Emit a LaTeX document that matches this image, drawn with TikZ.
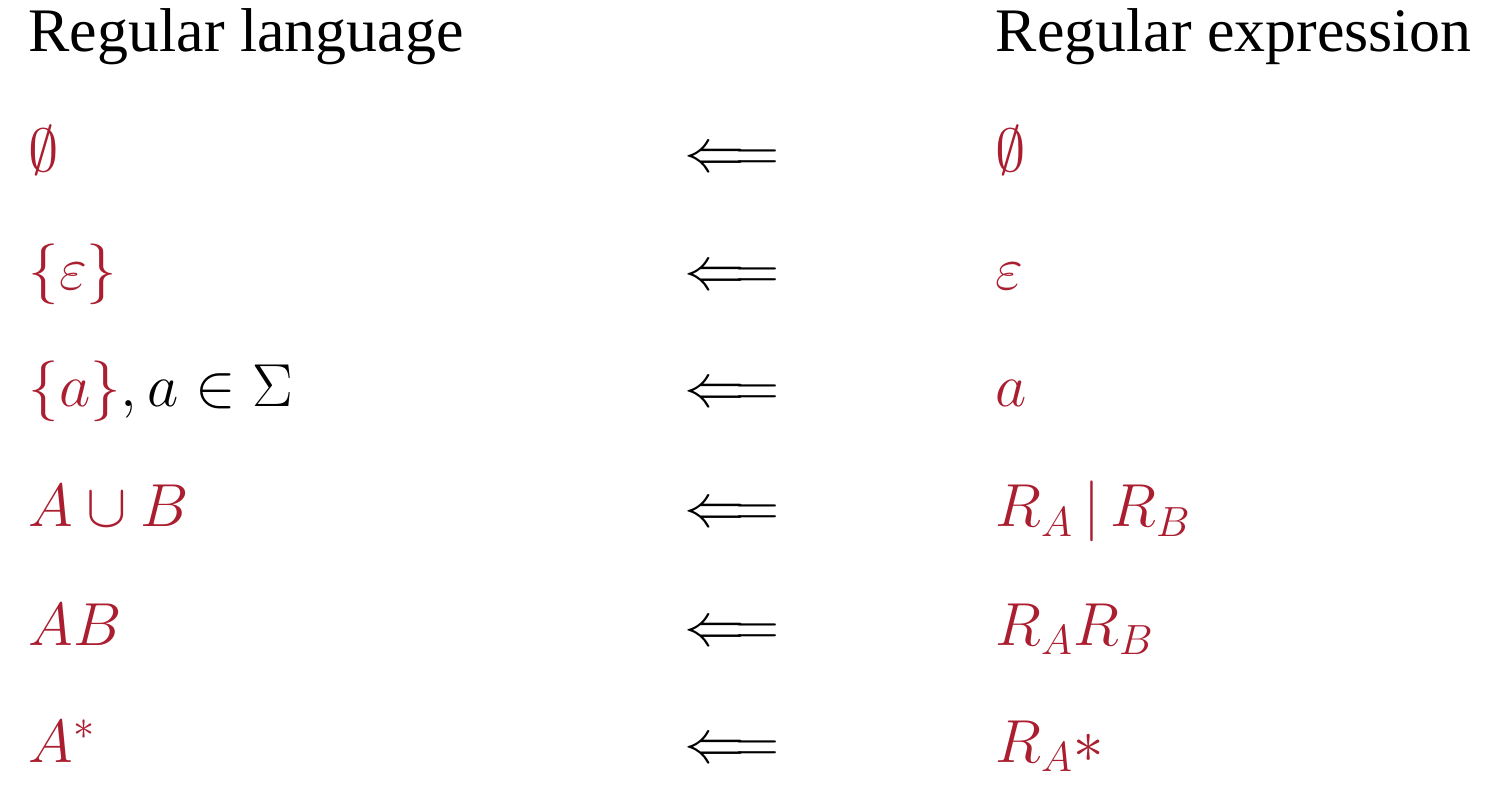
\documentclass[tikz,border=0pt]{standalone}
\usepackage{fontspec}
\setmainfont{Liberation Serif}
\usepackage{amsmath,amssymb}
\definecolor{rr}{RGB}{170,30,48}
\begin{document}
\begin{tikzpicture}[x=0.01cm,y=-0.01cm,
  txt/.style={anchor=base west,inner sep=0pt,font=\fontsize{17.6}{21}\selectfont},
  red/.style={txt,text=rr},
  arr/.style={anchor=base,inner sep=0pt,font=\fontsize{17.6}{21}\selectfont}]
\useasboundingbox (0,0) rectangle (1486,792);
\node[txt] (h1) at (28,52) {Regular language};
\node[txt] (h2) at (995,52) {Regular expression};
\foreach \y/\l/\r [count=\i] in {172/{$\emptyset$}/{$\emptyset$},
  290/{$\{\varepsilon\}$}/{$\varepsilon$},
  407/{$\{a\}$\textcolor{black}{$,a\in\Sigma$}}/{$a$},
  527/{$A\cup B$}/{$R_A\,|\,R_B$},
  645/{$AB$}/{$R_AR_B$},
  762/{$A^*$}/{$R_A{\ast}$}}{
  \node[red] (l\i) at (28,\y) {\l};
  \node[arr] (a\i) at (732,\y) {$\Longleftarrow$};
  \node[red] (r\i) at (995,\y) {\r};
}
\end{tikzpicture}
\end{document}
